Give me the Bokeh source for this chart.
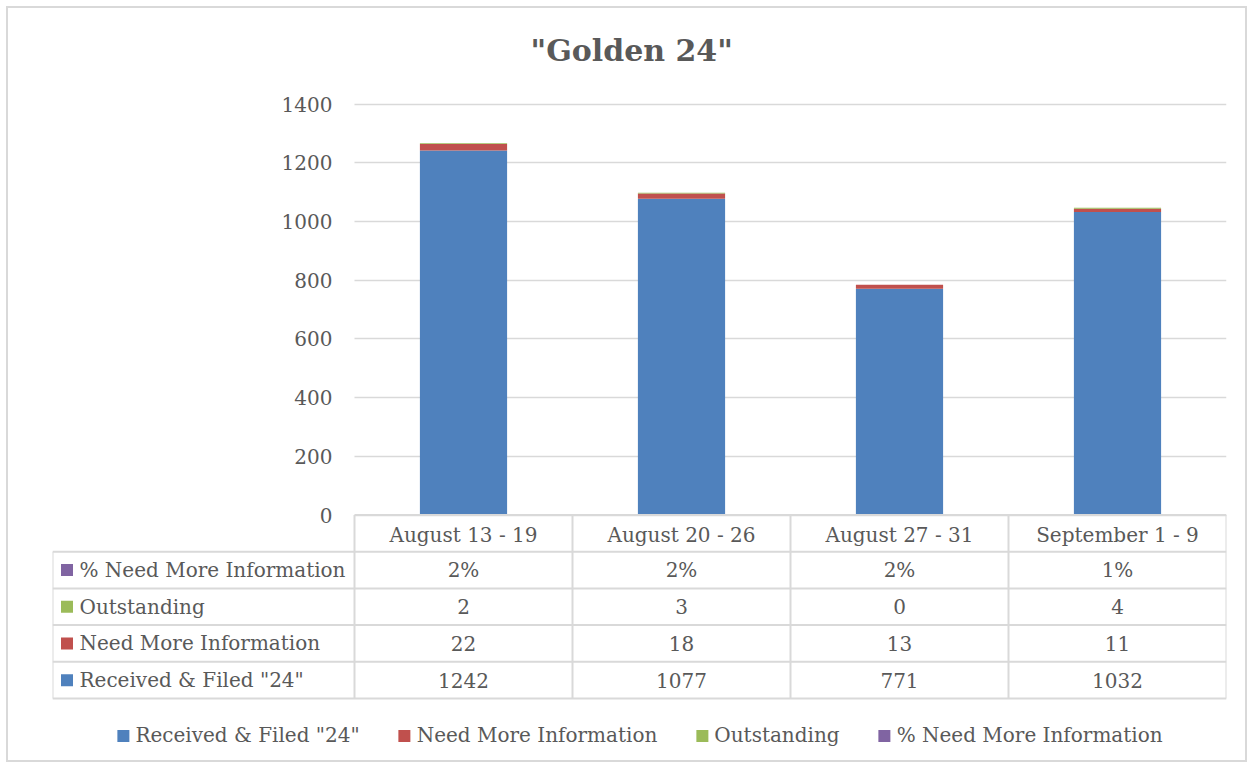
from bokeh.plotting import figure
from bokeh.models import (Range1d, LinearAxis, FixedTicker, Grid, Legend, LegendItem,
                          ColumnDataSource)
from bokeh.embed import file_html
from bokeh.resources import INLINE
from bokeh.core.properties import value

# ---------------- data ----------------
categories = ["August 13 - 19", "August 20 - 26", "August 27 - 31", "September 1 - 9"]
received = [1242, 1077, 771, 1032]
need_more = [22, 18, 13, 11]
outstanding = [2, 3, 0, 4]
pct_need_more = [0.02, 0.02, 0.02, 0.01]
series_names = ['Received & Filed "24"', "Need More Information", "Outstanding",
                "% Need More Information"]
colors = ["#4f81bd", "#c0504d", "#9bbb59", "#8064a2"]
y_ticks = [0, 200, 400, 600, 800, 1000, 1200, 1400]
title_text = '"Golden 24"'

# ---------------- style ----------------
FONT = "DejaVu Serif"
FS = "20px"
TXT = "#595959"
LINE = "#d9d9d9"

n = len(categories)
xs = list(range(n))
series_vals = [received, need_more, outstanding, pct_need_more]
keys = ["s0", "s1", "s2", "s3"]
src = ColumnDataSource(dict(x=xs, **{k: v for k, v in zip(keys, series_vals)}))

W, H = 1241, 756
ML, MR, MT, MB = 44, 23, 77, 0
PX = 218.0                      # pixels per category column
LABEL_W = 302 / PX              # width of the row-label column (x units)
SY = 411 / 1400                 # pixels per y unit
ROW_H = 36.7 / SY               # table row height (y units)
n_rows = len(series_names)
x0 = -0.5 - LABEL_W
x1 = n - 0.5
zero_px = 506.5                 # canvas y of value 0
y_hi = (zero_px - MT) / SY
y_lo = -((H - MB) - zero_px) / SY
t_lo = -ROW_H * (n_rows + 1)    # bottom of the data table

p = figure(width=W, height=H, x_range=Range1d(x0, x1), y_range=Range1d(y_lo, y_hi),
           x_axis_location=None, y_axis_location=None, toolbar_location=None,
           output_backend="svg", min_border_left=ML, min_border_right=MR,
           min_border_top=MT, min_border_bottom=MB, outline_line_color=None,
           margin=(6, 0, 0, 6), styles={"border": "2px solid #d9d9d9"})
p.grid.visible = False

p.title.text = title_text
p.title.text_font = FONT
p.title.text_font_size = "30px"
p.title.text_font_style = "bold"
p.title.text_color = TXT
p.title.align = "left"
p.title.standoff = 36
p.title.offset = 478

# y axis at the left edge of the category area
yaxis = LinearAxis(fixed_location=-0.5, ticker=FixedTicker(ticks=y_ticks),
                   axis_line_color=None, major_tick_line_color=None,
                   minor_tick_line_color=None, major_tick_out=0, major_tick_in=0,
                   major_label_standoff=22, major_label_text_font=FONT,
                   major_label_text_font_size=FS, major_label_text_color=TXT)
p.add_layout(yaxis, "left")

# category axis (header row of the data table)
xaxis = LinearAxis(fixed_location=0, ticker=FixedTicker(ticks=xs),
                   major_label_overrides={i: c for i, c in enumerate(categories)},
                   axis_line_color=None, major_tick_line_color=None,
                   minor_tick_line_color=None, major_tick_out=0, major_tick_in=0,
                   major_label_standoff=8, major_label_text_font=FONT,
                   major_label_text_font_size=FS, major_label_text_color=TXT)
p.add_layout(xaxis, "below")

grid = Grid(dimension=1, ticker=FixedTicker(ticks=y_ticks), grid_line_color=LINE,
            grid_line_width=1.5, cross_bounds=(-0.5, x1))
p.add_layout(grid)

# stacked bars
bars = p.vbar_stack(keys, x="x", width=0.4, source=src, color=colors, line_color=None)

# ---------------- data table ----------------
hx0, hx1, hy = [], [], []
for k in range(n_rows + 2):
    hx0.append(-0.5 if k == 0 else x0)
    hx1.append(x1)
    hy.append(-ROW_H * k)
p.segment(x0=hx0, y0=hy, x1=hx1, y1=hy, line_color=LINE, line_width=2)

vx, vy0, vy1 = [x0], [-ROW_H], [t_lo]
for i in range(n + 1):
    vx.append(-0.5 + i)
    vy0.append(0)
    vy1.append(t_lo)
p.segment(x0=vx, y0=vy0, x1=vx, y1=vy1, line_color=LINE, line_width=2)

rows = list(range(n_rows))[::-1]     # top row = last series
tx, ty, tt = [], [], []
lx, ly, lt, lc = [], [], [], []
for r, s in enumerate(rows):
    yc = -ROW_H * (r + 1.5)
    for i in range(n):
        v = series_vals[s][i]
        tx.append(i)
        ty.append(yc)
        tt.append(f"{v:.0%}" if s == 3 else str(v))
    lx.append(x0)
    ly.append(yc)
    lt.append(series_names[s])
    lc.append(colors[s])

p.text(x=tx, y=ty, text=tt, text_align="center", text_baseline="middle",
       text_font=value(FONT), text_font_size=FS, text_color=TXT)
p.text(x=lx, y=ly, text=lt, x_offset=27, text_align="left", text_baseline="middle",
       text_font=value(FONT), text_font_size=FS, text_color=TXT)
p.rect(x=[x0 + 14.5 / PX] * n_rows, y=ly, width=12, height=12, width_units="screen",
       height_units="screen", fill_color=lc, line_color=None)

# ---------------- legend ----------------
legend = Legend(items=[LegendItem(label=nm, renderers=[r]) for nm, r in zip(series_names, bars)],
                orientation="horizontal", location="bottom_center", glyph_width=15,
                glyph_height=15, label_standoff=5, spacing=37, margin=17, padding=8,
                label_text_font=FONT, label_text_font_size=FS, label_text_color=TXT,
                border_line_color=None, background_fill_alpha=0)
p.add_layout(legend)

open("out.html", "w").write(file_html(p, INLINE))
